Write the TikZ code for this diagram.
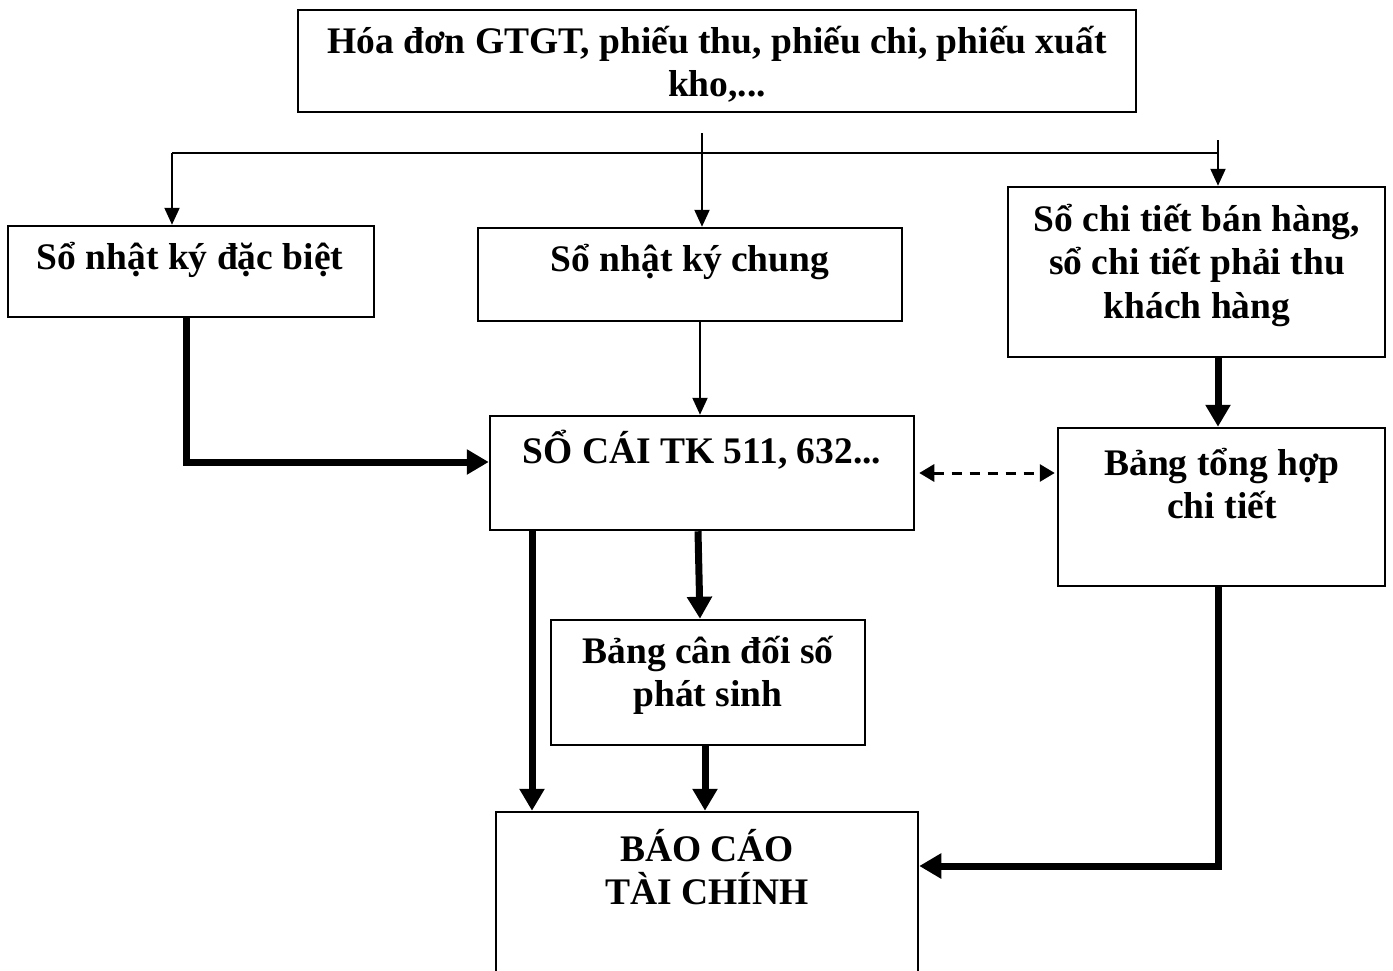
\documentclass[tikz,border=0pt]{standalone}
\usepackage{fontspec}
\setmainfont{Liberation Serif}
\usetikzlibrary{arrows.meta}
\begin{document}
\begin{tikzpicture}[x=1pt,y=-1pt,
  box/.style={draw,line width=2.5pt,rectangle,inner sep=0pt},
  txt/.style={font=\bfseries\fontsize{37.5}{43.5}\selectfont,align=center,inner sep=0pt},
  thinarrow/.style={line width=2.2pt,-{Triangle[length=17pt,width=15pt]}},
  thinline/.style={line width=2.2pt},
  thickarrow/.style={line width=7pt,-{Triangle[length=22pt,width=24pt]}},
  dasharrow/.style={line width=3pt,dash pattern=on 10pt off 8pt,{Triangle[length=15pt,width=17pt]}-{Triangle[length=15pt,width=17pt]}}]
\useasboundingbox (0,0) rectangle (1393,970);
% boxes
\node[box,minimum width=838pt,minimum height=102pt] (top) at (717,61) {};
\node[box,minimum width=366pt,minimum height=91pt] (nkdb) at (191,271.5) {};
\node[box,minimum width=424pt,minimum height=93pt] (nkc) at (690,274.5) {};
\node[box,minimum width=377pt,minimum height=170pt] (sct) at (1196.5,272) {};
\node[box,minimum width=424pt,minimum height=114pt] (socai) at (702,473) {};
\node[box,minimum width=327pt,minimum height=158pt] (bth) at (1221.5,507) {};
\node[box,minimum width=314pt,minimum height=125pt] (bcd) at (708,682.5) {};
\node[box,minimum width=422pt,minimum height=170pt] (bctc) at (707,897) {};
% texts
\node[txt] (ttop) at (717,64.5) {Hóa đơn GTGT, phiếu thu, phiếu chi, phiếu xuất\\kho,...};
\node[txt] (tnkdb) at (190,260) {Sổ nhật ký đặc biệt};
\node[txt] (tnkc) at (690,262) {Sổ nhật ký chung};
\node[txt] (tsct) at (1197,265) {Sổ chi tiết bán hàng,\\sổ chi tiết phải thu\\khách hàng};
\node[txt] (tsocai) at (702,450) {SỔ CÁI TK 511, 632...};
\node[txt] (tbth) at (1222,483.5) {Bảng tổng hợp\\chi tiết};
\node[txt] (tbcd) at (708,675.5) {Bảng cân đối số\\phát sinh};
\node[txt] (tbctc) at (707,867) {BÁO CÁO\\TÀI CHÍNH};
% thin connectors
\coordinate (cstart) at (702,133);
\coordinate (hl) at (172,153);
\coordinate (hr) at (1218,153);
\coordinate (rstart) at (1218,140);
\draw[thinarrow] (cstart) -- (cstart |- nkc.north);
\draw[thinline] (hl) -- (hr);
\draw[thinarrow] (hl) -- (hl |- nkdb.north);
\draw[thinarrow] (rstart) -- (rstart |- sct.north);
\draw[thinarrow] ([xshift=10pt]nkc.south) -- ([xshift=10pt]nkc.south |- socai.north);
% thick connectors
\draw[thickarrow] ([xshift=-5pt]nkdb.south) |- ([yshift=11pt]socai.west);
\draw[thickarrow] ([xshift=21.5pt]sct.south) -- ([xshift=21.5pt]sct.south |- bth.north);
\draw[dasharrow] ([xshift=4pt]socai.east) -- ([xshift=-2pt]socai.east -| bth.west);
\draw[thickarrow] ([xshift=-170pt]socai.south) -- ([xshift=-170pt]socai.south |- bctc.north);
\draw[thickarrow] ([xshift=-4pt]socai.south) -- ([xshift=-8pt]bcd.north);
\draw[thickarrow] ([xshift=-3pt]bcd.south) -- ([xshift=-3pt]bcd.south |- bctc.north);
\draw[thickarrow] ([xshift=-3.5pt]bth.south) |- ([yshift=31pt]bctc.east);
\end{tikzpicture}
\end{document}
